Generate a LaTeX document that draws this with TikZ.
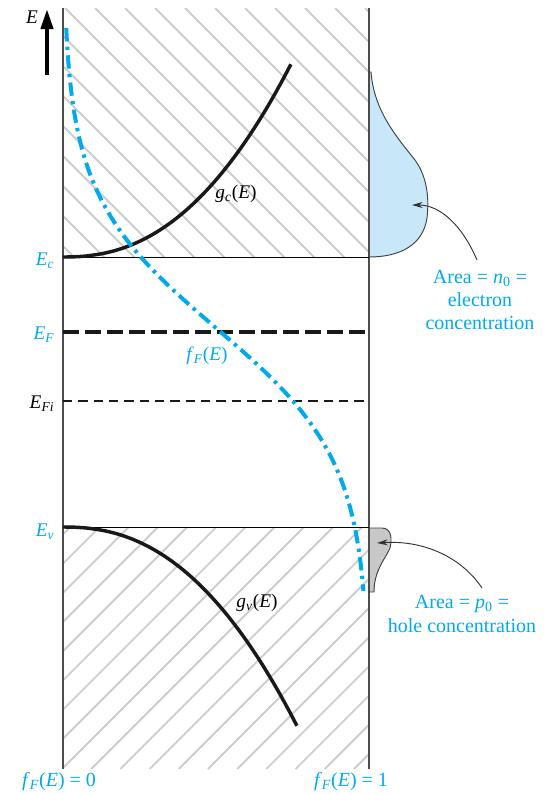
\documentclass[tikz,border=0pt]{standalone}
\usepackage{fontspec}
\setmainfont{Liberation Serif}
\usetikzlibrary{arrows.meta}
\definecolor{fblue}{RGB}{0,170,235}
\definecolor{efill}{RGB}{200,232,250}
\definecolor{hfill}{RGB}{200,200,200}
\definecolor{hatchgray}{RGB}{205,205,205}
\newcommand{\itsub}[1]{\textsubscript{\itshape #1}}
\tikzset{
  hatchline/.style={hatchgray, line width=1.4pt},
  frameline/.style={black!70, line width=0.9pt},
  bandedge/.style={black, line width=0.7pt},
  dos/.style={black!90, line width=2.6pt},
  fermi/.style={fblue, line width=3pt, dash pattern=on 10pt off 4pt on 2.5pt off 4pt},
  efline/.style={black!90, line width=3pt, dash pattern=on 12pt off 4.5pt},
  efiline/.style={black!90, line width=1.9pt, dash pattern=on 7pt off 4.5pt},
  biglbl/.style={font=\fontsize{15}{17.5}\selectfont, inner sep=0pt, align=center},
  smalllbl/.style={font=\fontsize{14.5}{17}\selectfont, inner sep=0pt},
  pointer/.style={black!80, line width=0.7pt, -{Stealth[length=8pt,width=4.5pt]}},
}
\begin{document}
\begin{tikzpicture}[x=0.75pt,y=-0.75pt]
\useasboundingbox (0,0) rectangle (547,794);
% hatching
\begin{scope}
  \clip (63,8) rectangle (369,257);
  \foreach \k in {-10,...,11} \draw[hatchline] ({65+30*\k},8) -- ++(270,270);
\end{scope}
\begin{scope}
  \clip (63,527) rectangle (369,769);
  \foreach \k in {-9,...,11} \draw[hatchline] ({62+29.2*\k},769) -- ++(260,-260);
\end{scope}
% electron / hole distributions
\draw[fill=efill, draw=black!75, line width=0.7pt]
  (369,72) -- (371,72) .. controls (374,110) and (395,135) .. (415,160)
  .. controls (428,178) and (429,200) .. (427,218)
  .. controls (423,245) and (400,257) .. (369,257) -- cycle;
\draw[fill=hfill, draw=black!75, line width=0.7pt]
  (369,528) -- (382,528) .. controls (392,528) and (392,540) .. (390,548)
  .. controls (386,558) and (374,570) .. (374,592) -- (369,592) -- cycle;
% frame lines
\draw[frameline] (63,8) -- (63,769);
\draw[frameline] (369,8) -- (369,769);
\draw[bandedge] (63,257) -- (369,257);
\draw[bandedge] (63,527) -- (369,527);
% Fermi levels
\draw[efline] (63,332) -- (369,332);
\draw[efiline] (63,401) -- (369,401);
% density of states
\draw[dos] (63,257) -- plot[domain=0.01:1, samples=60, variable=\t] ({63+228*\t},{257-193*\t^2.3});
\draw[dos] (63,527) -- plot[domain=0.01:1, samples=60, variable=\t] ({63+234*\t},{527+199*\t^2.3});
% Fermi function
\draw[fermi] plot[domain=28:591, samples=120, variable=\t] ({63+306/(1+exp((328-\t)/66))},\t);
% energy arrow
\draw[black, line width=3pt, -{Triangle[length=15pt,width=9pt]}] (47,75) -- (47,9);
\node[smalllbl] (E) at (32,17) {\textit{E}};
% band labels
\node[smalllbl, text=fblue] (Ec) at (45,261) {\textit{E}\itsub{c}};
\node[smalllbl, text=fblue] (EF) at (44,335) {\textit{E}\itsub{F}};
\node[smalllbl, text=black] (EFi) at (42,404) {\textit{E}\itsub{Fi}};
\node[smalllbl, text=fblue] (Ev) at (45,532) {\textit{E}\itsub{v}};
\node[smalllbl] (gc) at (236,194) {\textit{g}\itsub{c}(\textit{E})};
\node[smalllbl, text=fblue] (fF) at (207,356) {\textit{f}\itsub{F}(\textit{E})};
\node[smalllbl] (gv) at (257,603) {\textit{g}\itsub{v}(\textit{E})};
% area labels
\node[biglbl, text=fblue] (n0) at (480,300) {Area = \textit{n}\textsubscript{0} =\\electron\\concentration};
\node[biglbl, text=fblue] (p0) at (462,614) {Area = \textit{p}\textsubscript{0} =\\hole concentration};
\coordinate (estart) at (477,260);
\coordinate (etip) at (412,205);
\coordinate (hstart) at (482,588);
\coordinate (htip) at (377,543);
\draw[pointer] (estart) .. controls (462,225) and (440,205) .. (etip);
\draw[pointer] (hstart) .. controls (462,558) and (425,540) .. (htip);
% bottom labels
\node[biglbl, text=fblue] (f0) at (59,782) {\textit{f}\itsub{F}(\textit{E}) = 0};
\node[biglbl, text=fblue] (f1) at (351,782) {\textit{f}\itsub{F}(\textit{E}) = 1};
\end{tikzpicture}
\end{document}
